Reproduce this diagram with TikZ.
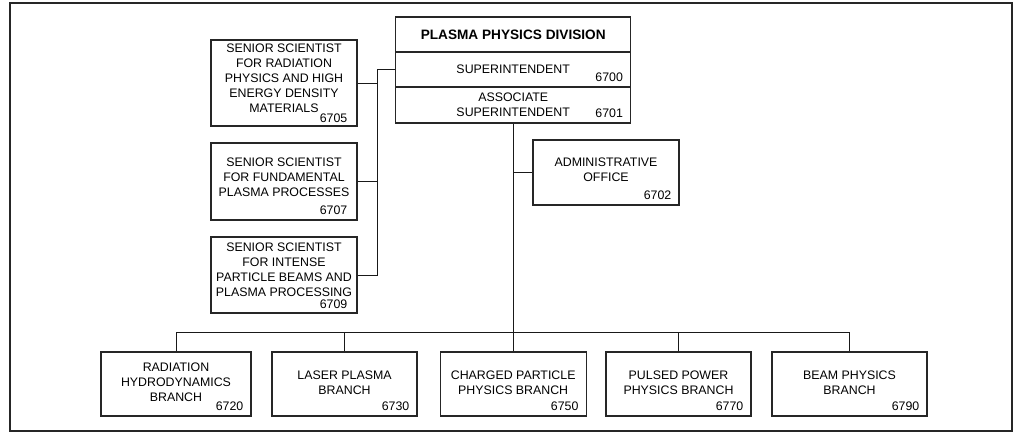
\documentclass[tikz,border=0pt]{standalone}
\usepackage{fontspec}
\setmainfont{Liberation Sans}
\usepackage{tikz}
\tikzset{
  frame/.style={line width=1.8pt, draw=black!85},
  unit/.style={draw=black!85, line width=0.8pt, rectangle, inner sep=0pt, align=center,
    font=\fontsize{8.8}{10.7}\selectfont},
  headunit/.style={unit, font=\fontsize{9.7}{11}\selectfont\bfseries},
  lift/.style={text depth=#1},
  code/.style={inner sep=0pt, anchor=south east, font=\fontsize{8.8}{10.7}\selectfont},
  link/.style={line width=0.7pt, draw=black!90},
}

\begin{document}
\begin{tikzpicture}
\useasboundingbox (0,0) rectangle (25.4,10.875);
\draw[frame] (0.25,0.1) rectangle (25.3,10.8);
% division office
\node[headunit, minimum width=5.875cm, minimum height=0.875cm] (title) at (12.830,10.013) {PLASMA PHYSICS DIVISION};
\node[unit, minimum width=5.875cm, minimum height=0.875cm] (super) at (12.830,9.138) {SUPERINTENDENT};
\node[unit, minimum width=5.875cm, minimum height=0.900cm] (assoc) at (12.830,8.250) {ASSOCIATE\\SUPERINTENDENT};
\node[code] (n6700) at ([xshift=-0.2cm,yshift=0.15cm]super.south east) {6700};
\node[code] (n6701) at ([xshift=-0.2cm,yshift=0.15cm]assoc.south east) {6701};
% senior scientists
\node[unit, lift=0.25cm, minimum width=3.65cm, minimum height=2.150cm] (s6705) at (7.100,8.800) {SENIOR SCIENTIST\\FOR RADIATION\\PHYSICS AND HIGH\\ENERGY DENSITY\\MATERIALS};
\node[unit, lift=0.2cm, minimum width=3.65cm, minimum height=1.925cm] (s6707) at (7.100,6.338) {SENIOR SCIENTIST\\FOR FUNDAMENTAL\\PLASMA PROCESSES};
\node[unit, lift=0.25cm, minimum width=3.65cm, minimum height=1.900cm] (s6709) at (7.100,4.000) {SENIOR SCIENTIST\\FOR INTENSE\\PARTICLE BEAMS AND\\PLASMA PROCESSING};
\node[code] (n6705) at ([xshift=-0.25cm,yshift=0.10cm]s6705.south east) {6705};
\node[code] (n6707) at ([xshift=-0.25cm,yshift=0.13cm]s6707.south east) {6707};
\node[code] (n6709) at ([xshift=-0.25cm,yshift=0.11cm]s6709.south east) {6709};
% administrative office
\node[unit, lift=0.12cm, minimum width=3.65cm, minimum height=1.625cm] (a6702) at (15.150,6.563) {ADMINISTRATIVE\\OFFICE};
\node[code] (n6702) at ([xshift=-0.2cm,yshift=0.15cm]a6702.south east) {6702};
% branches
\node[unit, lift=0.08cm, minimum width=3.750cm, minimum height=1.6cm] (b6720) at (4.400,1.275) {RADIATION\\HYDRODYNAMICS\\BRANCH};
\node[unit, lift=0.08cm, minimum width=3.625cm, minimum height=1.6cm] (b6730) at (8.613,1.275) {LASER PLASMA\\BRANCH};
\node[unit, lift=0.08cm, minimum width=3.650cm, minimum height=1.6cm] (b6750) at (12.830,1.275) {CHARGED PARTICLE\\PHYSICS BRANCH};
\node[unit, lift=0.08cm, minimum width=3.625cm, minimum height=1.6cm] (b6770) at (16.963,1.275) {PULSED POWER\\PHYSICS BRANCH};
\node[unit, lift=0.08cm, minimum width=3.875cm, minimum height=1.6cm] (b6790) at (21.238,1.275) {BEAM PHYSICS\\BRANCH};
\node[code] (n6720) at ([xshift=-0.2cm,yshift=0.15cm]b6720.south east) {6720};
\node[code] (n6730) at ([xshift=-0.2cm,yshift=0.15cm]b6730.south east) {6730};
\node[code] (n6750) at ([xshift=-0.2cm,yshift=0.15cm]b6750.south east) {6750};
\node[code] (n6770) at ([xshift=-0.2cm,yshift=0.15cm]b6770.south east) {6770};
\node[code] (n6790) at ([xshift=-0.2cm,yshift=0.15cm]b6790.south east) {6790};
% connectors
\coordinate (jct) at (9.425,9.138);
\draw[link] (super.west) -- (jct) |- (s6709.east);
\draw[link] (s6705.east) -- (s6705.east -| jct);
\draw[link] (s6707.east) -- (s6707.east -| jct);
\draw[link] (assoc.south) -- (b6750.north);
\draw[link] (a6702.west) -- (a6702.west -| assoc.south);
\draw[link] (b6720.north) -- ++(0,0.475) -| (b6790.north);
\draw[link] (b6730.north) -- ++(0,0.475);
\draw[link] (b6770.north) -- ++(0,0.475);
\end{tikzpicture}
\end{document}
